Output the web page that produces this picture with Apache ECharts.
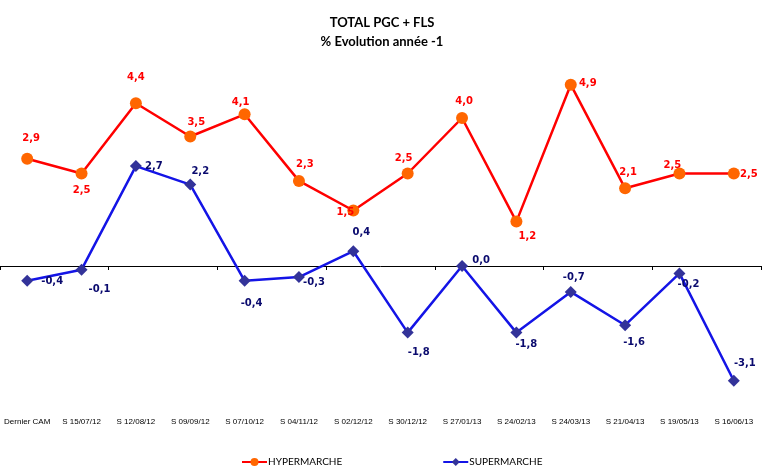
<!DOCTYPE html>
<html>
<head>
<meta charset="utf-8">
<script src="https://cdn.jsdelivr.net/npm/echarts@6/dist/echarts.min.js"></script>
<style>
  html, body { margin: 0; padding: 0; background: #fff; }
  #chart { width: 764px; height: 474px; }
</style>
</head>
<body>
<div id="chart"></div>
<script>
// categories (weeks)
const weeks = ['Dernier CAM', 'S 15/07/12', 'S 12/08/12', 'S 09/09/12', 'S 07/10/12', 'S 04/11/12', 'S 02/12/12',
    'S 30/12/12', 'S 27/01/13', 'S 24/02/13', 'S 24/03/13', 'S 21/04/13', 'S 19/05/13', 'S 16/06/13'];

// % evolution vs year -1
const hyper = [2.9, 2.5, 4.4, 3.5, 4.1, 2.3, 1.5, 2.5, 4.0, 1.2, 4.9, 2.1, 2.5, 2.5];
const superm = [-0.4, -0.1, 2.7, 2.2, -0.4, -0.3, 0.4, -1.8, 0.0, -1.8, -0.7, -1.6, -0.2, -3.1];

// label offsets (hand placed like in the excel chart)
const hyperOffsets = [[4, -20], [0, 17], [0, -26], [6, -14], [-4, -12], [6, -16], [-8, 2],
    [-4, -15], [2, -17], [11, 15], [17, -1], [3, -16], [-7, -8], [15, 1]];
const superOffsets = [[25, 1], [18, 20], [18, 0], [10, -13], [7, 23], [15, 5], [8, -19],
    [11, 20], [19, -6], [10, 12], [3, -14], [9, 17], [9, 11], [11, -17]];

const fmt = p => p.value.toFixed(1).replace('.', ',');

function withLabels(values, offsets) {
    return values.map((v, i) => ({
        value: v,
        label: { offset: offsets[i] }
    }));
}

const labelFont = "'DejaVu Sans', Verdana, sans-serif";

let myChart = echarts.init(document.getElementById('chart'));
myChart.setOption({
    animation: false,
    title: {
        text: 'TOTAL PGC + FLS\n% Evolution année -1',
        left: 'center',
        top: 8,
        textStyle: {
            fontFamily: "'Comic Sans MS', Lato, sans-serif",
            fontSize: 13,
            fontWeight: 'bold',
            color: '#000',
            lineHeight: 19
        }
    },
    legend: {
        left: 236,
        top: 452,
        itemWidth: 25,
        itemHeight: 10,
        itemGap: 100,
        textStyle: {
            fontFamily: "'Comic Sans MS', Lato, sans-serif",
            fontSize: 10,
            color: '#000',
            padding: [0, 0, 0, -4]
        },
        data: ['HYPERMARCHE', 'SUPERMARCHE']
    },
    grid: {
        left: -3,
        right: 3,
        top: 81,
        bottom: 60,
        containLabel: false
    },
    xAxis: [
        {
            type: 'category',
            data: weeks,
            position: 'bottom',
            axisLine: { show: false, onZero: false },
            axisTick: { show: false },
            axisLabel: {
                interval: 0,
                margin: 4,
                fontFamily: "'Liberation Sans', Arial, sans-serif",
                fontSize: 8,
                color: '#000'
            }
        },
        {
            type: 'category',
            data: weeks,
            position: 'top',
            axisLine: { show: true, onZero: true, lineStyle: { color: '#000', width: 1 } },
            axisTick: { show: true, inside: true, length: 4, lineStyle: { color: '#000' } },
            axisLabel: { show: false }
        }
    ],
    yAxis: {
        type: 'value',
        min: -4,
        max: 5,
        show: false,
        splitLine: { show: false }
    },
    series: [
        {
            name: 'HYPERMARCHE',
            type: 'line',
            data: withLabels(hyper, hyperOffsets),
            symbol: 'circle',
            symbolSize: 12,
            itemStyle: { color: '#FF6600' },
            lineStyle: { color: '#FF0000', width: 2.5 },
            z: 3,
            label: {
                show: true,
                position: 'inside',
                formatter: fmt,
                color: '#FF0000',
                fontFamily: labelFont,
                fontWeight: 'bold',
                fontSize: 10
            }
        },
        {
            name: 'SUPERMARCHE',
            type: 'line',
            data: withLabels(superm, superOffsets),
            symbol: 'diamond',
            symbolSize: 12,
            itemStyle: { color: '#333399' },
            lineStyle: { color: '#1414E6', width: 2.5 },
            z: 2,
            label: {
                show: true,
                position: 'inside',
                formatter: fmt,
                color: '#0A0A6E',
                fontFamily: labelFont,
                fontWeight: 'bold',
                fontSize: 10
            }
        }
    ]
});
</script>
</body>
</html>
